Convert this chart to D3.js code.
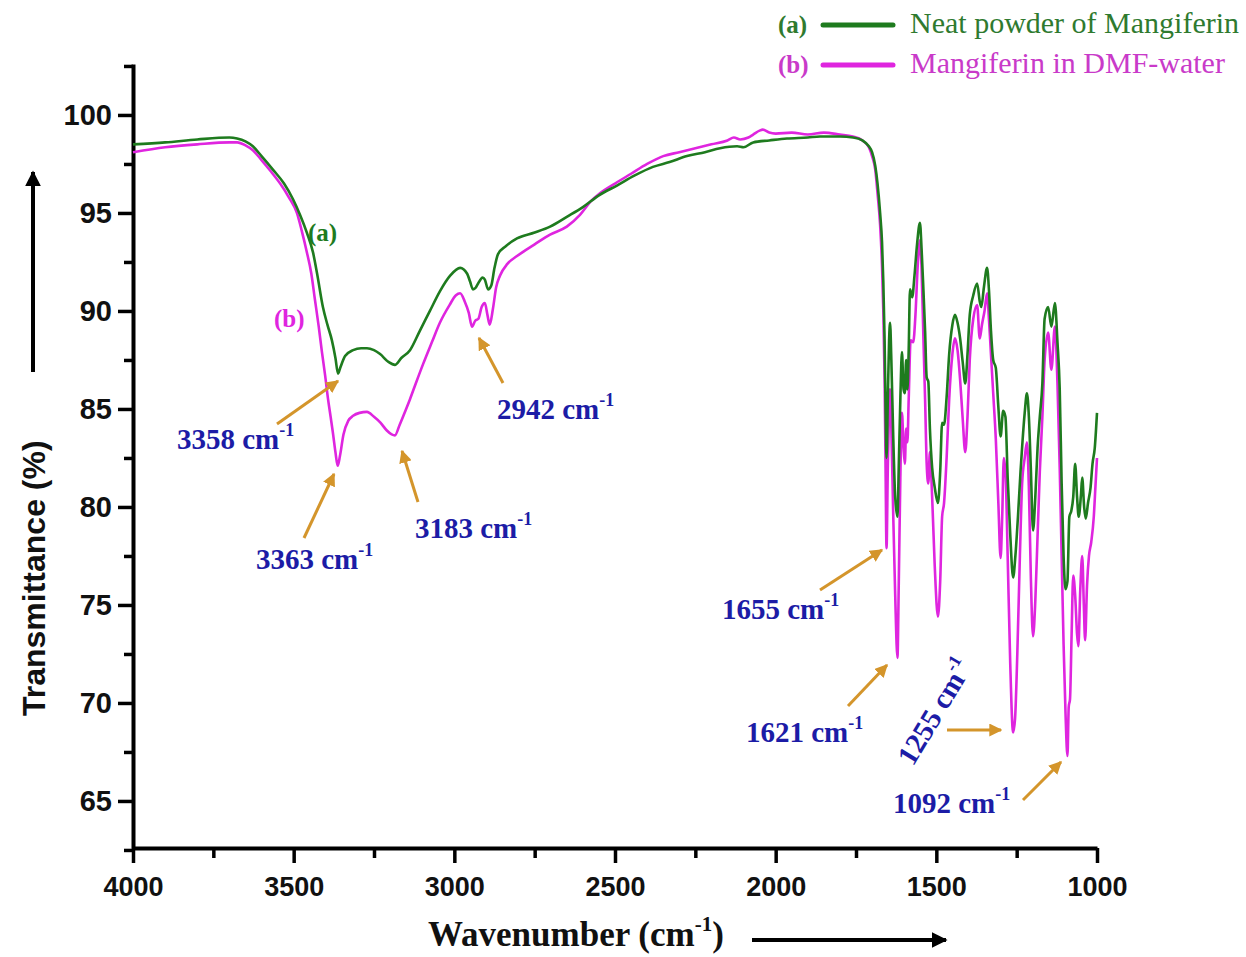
<!DOCTYPE html>
<html>
<head>
<meta charset="utf-8">
<script src="https://cdn.jsdelivr.net/npm/d3@7"></script>
<style>
  body { margin: 0; background: #fff; }
  svg { display: block; }
</style>
</head>
<body>
<div id="chart"></div>
<script>
// (a) neat powder of Mangiferin - wavenumber (cm-1) and transmittance (%)
var wnA = [4000,3900,3800,3700,3676,3650,3627,3600,3564,3530,3502,3480,3459,3440,3427,3409,3395,3381,3370,3362,3355,3340,3315,3290,3272,3250,3231,3205,3185,3165,3138,3107,3076,3045,3013,2982,2960,2951,2942,2933,2926,2912,2905,2895,2885,2875,2864,2840,2805,2750,2702,2650,2600,2550,2494,2440,2382,2330,2276,2220,2173,2120,2100,2070,2020,1965,1900,1862,1800,1759,1730,1710,1700,1690,1683,1675,1669,1665,1661,1658,1655,1651,1647,1644,1640,1634,1628,1621,1617,1612,1607,1602,1598,1594,1590,1586,1582,1575,1568,1560,1551,1546,1540,1535,1530,1525,1520,1513,1505,1495,1488,1482,1476,1468,1460,1450,1442,1434,1426,1418,1410,1403,1396,1385,1373,1365,1360,1352,1342,1336,1330,1323,1315,1307,1300,1292,1285,1278,1270,1261,1254,1246,1238,1232,1225,1218,1212,1206,1199,1192,1185,1178,1170,1163,1152,1142,1131,1123,1116,1110,1104,1098,1092,1086,1080,1074,1068,1062,1057,1050,1046,1040,1035,1028,1020,1014,1007,1000];
var tA = [98.5,98.6,98.75,98.85,98.8,98.65,98.4,97.9,97.2,96.5,95.7,94.9,94.0,93.0,91.9,90.2,89.3,88.5,87.6,86.8,87.1,87.7,88.0,88.1,88.1,88.0,87.8,87.4,87.25,87.6,88.0,89.0,90.0,91.0,91.8,92.2,91.9,91.5,91.1,91.2,91.4,91.7,91.6,91.1,91.3,92.2,92.9,93.3,93.7,94.0,94.3,94.8,95.3,95.9,96.4,96.9,97.35,97.6,97.9,98.1,98.3,98.4,98.35,98.6,98.7,98.8,98.85,98.9,98.9,98.85,98.7,98.4,98.1,97.4,96.5,95.0,93.5,91.5,88.5,85.0,82.5,85.5,88.5,89.4,87.5,83.5,80.5,79.5,82.0,85.5,87.9,86.0,85.8,87.5,86.0,88.0,91.1,90.7,91.8,93.4,94.5,93.2,91.0,89.0,86.6,86.4,84.0,82.0,81.0,80.2,81.8,84.3,84.2,85.6,87.8,89.3,89.8,89.4,88.6,87.4,86.3,87.8,89.8,90.8,91.4,90.5,90.2,91.2,92.2,91.0,89.0,87.5,87.1,85.1,83.6,84.9,84.6,81.5,78.6,76.4,77.5,79.5,81.8,83.3,84.8,85.8,84.6,82.0,78.8,80.5,83.0,84.6,86.3,89.6,90.2,89.2,90.4,88.4,86.0,81.2,77.5,75.8,76.2,79.5,79.8,80.5,82.2,80.5,79.5,80.6,81.5,80.0,79.4,80.2,81.0,82.2,83.0,84.8];

// (b) Mangiferin in DMF-water
var wnB = [4000,3900,3800,3700,3676,3650,3627,3600,3570,3542,3515,3490,3475,3459,3445,3434,3422,3412,3402,3393,3385,3378,3370,3363,3356,3345,3330,3315,3295,3272,3250,3230,3210,3195,3185,3170,3150,3138,3120,3097,3070,3045,3015,2995,2982,2968,2955,2945,2935,2925,2915,2905,2897,2890,2880,2870,2858,2835,2805,2750,2702,2650,2609,2575,2547,2500,2450,2400,2350,2300,2250,2200,2150,2130,2110,2085,2070,2050,2040,2020,2000,1950,1900,1850,1800,1760,1730,1710,1700,1690,1683,1675,1669,1665,1661,1658,1655,1651,1647,1644,1640,1634,1628,1621,1617,1612,1607,1602,1598,1594,1590,1586,1580,1572,1565,1558,1551,1546,1540,1535,1530,1525,1520,1513,1505,1495,1488,1482,1476,1468,1460,1450,1442,1434,1426,1418,1410,1403,1396,1385,1373,1365,1358,1350,1342,1336,1330,1323,1315,1307,1300,1295,1290,1284,1278,1270,1261,1255,1248,1240,1233,1225,1218,1212,1206,1199,1192,1185,1178,1170,1163,1152,1142,1131,1123,1116,1110,1104,1098,1092,1088,1084,1079,1074,1068,1062,1058,1052,1046,1041,1037,1031,1025,1018,1010,1005,1000];
var tB = [98.1,98.35,98.5,98.6,98.6,98.45,98.2,97.7,97.1,96.5,95.8,95.0,94.1,93.0,91.9,90.6,89.2,87.9,86.7,85.5,84.6,83.8,82.8,82.1,82.6,83.7,84.4,84.65,84.8,84.85,84.6,84.3,83.9,83.7,83.65,84.2,85.0,85.5,86.3,87.3,88.4,89.4,90.3,90.8,90.9,90.5,89.9,89.2,89.5,89.6,90.2,90.4,89.8,89.3,90.1,91.2,91.8,92.4,92.8,93.4,93.9,94.3,94.9,95.6,96.0,96.5,97.0,97.5,97.9,98.1,98.3,98.5,98.7,98.85,98.75,98.85,99.0,99.2,99.25,99.1,99.05,99.1,99.0,99.1,99.0,98.9,98.7,98.35,97.9,97.2,96.0,94.4,92.3,90.0,86.5,82.0,77.9,82.0,85.2,86.0,84.0,79.5,75.5,72.3,76.0,81.5,84.8,83.0,82.2,84.0,83.3,85.5,88.5,88.4,89.8,92.3,93.6,92.2,88.5,85.5,82.2,81.2,82.8,80.5,77.0,74.4,76.2,79.5,80.2,82.5,85.5,87.8,88.6,88.0,86.5,84.5,82.8,84.6,87.5,89.6,90.3,88.6,89.3,90.0,90.9,89.5,87.8,85.8,83.5,80.2,77.4,79.5,82.5,81.5,77.5,72.0,68.5,69.2,72.5,77.5,81.2,82.5,83.3,81.0,76.5,73.4,75.2,78.5,81.8,84.6,87.5,88.9,87.0,89.2,86.3,82.0,77.5,73.0,69.5,67.3,69.8,70.2,73.5,76.5,75.5,73.5,72.9,75.8,77.5,75.0,73.2,76.0,77.5,78.2,79.5,81.0,82.5];

var xTicks = [4000,3500,3000,2500,2000,1500,1000];
var yTicks = [65,70,75,80,85,90,95,100];

// marked peaks (cm-1)
var peakLabels = ["3358", "3363", "3183", "2942", "1655", "1621", "1255", "1092"];

var width = 1246, height = 957;
var greenCol = "#1e7b1e", pinkCol = "#df25df", blueCol = "#1c1ca6", arrowCol = "#d4952b";

var svg = d3.select("#chart").append("svg")
  .attr("width", width).attr("height", height);

var defs = svg.append("defs");
function marker(id, col, size) {
  defs.append("marker")
    .attr("id", id)
    .attr("viewBox", "0 0 10 10")
    .attr("refX", 9).attr("refY", 5)
    .attr("markerWidth", size).attr("markerHeight", size)
    .attr("markerUnits", "userSpaceOnUse")
    .attr("orient", "auto")
    .append("path").attr("d", "M0,0 L10,5 L0,10 Z").attr("fill", col);
}
marker("arrGold", arrowCol, 13);
marker("arrBlack", "#000", 16);

var x = d3.scaleLinear().domain([4000, 1000]).range([133, 1097]);
var y = d3.scaleLinear().domain([62.6, 102.6]).range([848, 64]);

// minor ticks
svg.append("g").attr("transform", "translate(0,848)")
  .call(d3.axisBottom(x).tickValues(d3.range(3750, 1000, -500)).tickSize(10).tickFormat(""))
  .call(g => g.select(".domain").remove())
  .selectAll("line").attr("stroke-width", 3.5);
svg.append("g").attr("transform", "translate(133,0)")
  .call(d3.axisLeft(y).tickValues(d3.range(62.5, 103, 5)).tickSize(9).tickFormat(""))
  .call(g => g.select(".domain").remove())
  .selectAll("line").attr("stroke-width", 3.5);

// major axes
var xAxis = svg.append("g").attr("transform", "translate(0,848)")
  .call(d3.axisBottom(x).tickValues(xTicks).tickSize(15).tickSizeOuter(0).tickPadding(14).tickFormat(d3.format("d")));
xAxis.select(".domain").attr("stroke-width", 4);
xAxis.selectAll("line").attr("stroke-width", 3.5);
xAxis.selectAll("text").attr("font-family", "Liberation Sans, Arial, sans-serif")
  .attr("font-weight", "bold").attr("font-size", 27).attr("fill", "#111");

var yAxis = svg.append("g").attr("transform", "translate(133,0)")
  .call(d3.axisLeft(y).tickValues(yTicks).tickSize(15).tickSizeOuter(0).tickPadding(6));
yAxis.select(".domain").attr("stroke-width", 4);
yAxis.selectAll("line").attr("stroke-width", 3.5);
yAxis.selectAll("text").attr("font-family", "Liberation Sans, Arial, sans-serif")
  .attr("font-weight", "bold").attr("font-size", 29).attr("fill", "#111");

// spectra, green drawn over pink
var line = d3.line().x(d => x(d[0])).y(d => y(d[1])).curve(d3.curveMonotoneX);
svg.append("path").datum(d3.zip(wnB, tB))
  .attr("d", line).attr("fill", "none").attr("stroke", pinkCol).attr("stroke-width", 2.6);
svg.append("path").datum(d3.zip(wnA, tA))
  .attr("d", line).attr("fill", "none").attr("stroke", greenCol).attr("stroke-width", 2.6);

// axis titles
svg.append("text")
  .attr("transform", "translate(45,716) rotate(-90)")
  .attr("font-family", "Liberation Sans, Arial, sans-serif").attr("font-weight", "bold")
  .attr("font-size", 32).attr("fill", "#111")
  .text("Transmittance (%)");
svg.append("line").attr("x1", 33).attr("y1", 372).attr("x2", 33).attr("y2", 172)
  .attr("stroke", "#000").attr("stroke-width", 4).attr("marker-end", "url(#arrBlack)");

var xt = svg.append("text").attr("x", 428).attr("y", 946)
  .attr("font-family", "Liberation Serif, Times New Roman, serif").attr("font-weight", "bold")
  .attr("font-size", 35).attr("fill", "#111");
xt.append("tspan").text("Wavenumber (cm");
xt.append("tspan").attr("dy", -15).attr("font-size", 21).text("-1");
xt.append("tspan").attr("dy", 15).text(")");
svg.append("line").attr("x1", 752).attr("y1", 940).attr("x2", 946).attr("y2", 940)
  .attr("stroke", "#000").attr("stroke-width", 4).attr("marker-end", "url(#arrBlack)");

// curve tags
svg.append("text").attr("x", 308).attr("y", 241)
  .attr("font-family", "Liberation Serif, serif").attr("font-weight", "bold")
  .attr("font-size", 25).attr("fill", greenCol).text("(a)");
svg.append("text").attr("x", 274).attr("y", 327)
  .attr("font-family", "Liberation Serif, serif").attr("font-weight", "bold")
  .attr("font-size", 25).attr("fill", pinkCol).text("(b)");

// peak annotations
var labelPos = [[177,449],[256,569],[415,538],[497,419],[722,619],[746,742],[913,767],[893,813]];
var arrows = [[277,424,338,381],[304,538,334,474],[418,502,402,451],[503,383,479,338],[820,590,882,550],[848,706,887,665],[947,730,1001,730],[1023,800,1061,762]];

peakLabels.forEach(function(lbl, i) {
  var p = labelPos[i];
  var t = svg.append("text")
    .attr("font-family", "Liberation Serif, Times New Roman, serif").attr("font-weight", "bold")
    .attr("font-size", 29).attr("fill", blueCol);
  if (i === 6) t.attr("transform", "translate(" + p[0] + "," + p[1] + ") rotate(-59)");
  else t.attr("x", p[0]).attr("y", p[1]);
  t.append("tspan").text(lbl + " cm");
  t.append("tspan").attr("dy", -13).attr("font-size", 18).text("-1");
  var a = arrows[i];
  svg.append("line").attr("x1", a[0]).attr("y1", a[1]).attr("x2", a[2]).attr("y2", a[3])
    .attr("stroke", arrowCol).attr("stroke-width", 3).attr("marker-end", "url(#arrGold)");
});

// legend
var legendKeys = ["(a)", "(b)"];
var legendNames = ["Neat powder of Mangiferin", "Mangiferin in DMF-water"];
var legendCols = [greenCol, pinkCol];
var legendText = ["#2f7a2f", "#c93ac9"];
legendKeys.forEach(function(k, i) {
  var yy = 33 + i * 40;
  svg.append("text").attr("x", 778).attr("y", yy)
    .attr("font-family", "Liberation Serif, serif").attr("font-weight", "bold")
    .attr("font-size", 25).attr("fill", legendText[i]).text(k);
  svg.append("line").attr("x1", 823).attr("x2", 893).attr("y1", yy - 8).attr("y2", yy - 8)
    .attr("stroke", legendCols[i]).attr("stroke-width", 5).attr("stroke-linecap", "round");
  svg.append("text").attr("x", 910).attr("y", yy)
    .attr("font-family", "Liberation Serif, serif")
    .attr("font-size", 30).attr("fill", legendText[i]).text(legendNames[i]);
});
</script>
</body>
</html>
